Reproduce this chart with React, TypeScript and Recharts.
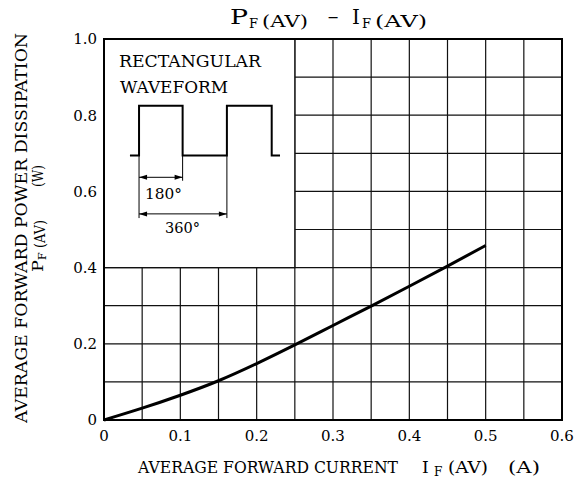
import React from 'react';
import { LineChart, Line, XAxis, YAxis, CartesianGrid, ReferenceArea, ReferenceLine } from 'recharts';

// Curve: PF(AV) vs IF(AV)
const currentA = [0, 0.05, 0.1, 0.15, 0.2, 0.25, 0.3, 0.35, 0.4, 0.45, 0.5];
const powerW = [0, 0.031, 0.065, 0.103, 0.148, 0.197, 0.248, 0.299, 0.351, 0.404, 0.458];

// Axis ticks (grid every 0.05 A / 0.1 W, labels every 0.1 A / 0.2 W)
const xTicks = [0, 0.05, 0.1, 0.15, 0.2, 0.25, 0.3, 0.35, 0.4, 0.45, 0.5, 0.55, 0.6];
const yTicks = [0, 0.1, 0.2, 0.3, 0.4, 0.5, 0.6, 0.7, 0.8, 0.9, 1.0];

// Inset waveform drawing (in data units)
const waveX = [0.034, 0.0459, 0.0459, 0.103, 0.103, 0.161, 0.161, 0.2197, 0.2197, 0.2306];
const waveY = [0.694, 0.694, 0.825, 0.825, 0.694, 0.694, 0.825, 0.825, 0.694, 0.694];

const curveData = currentA.map((x, i) => ({ x, y: powerW[i] }));
const waveData = waveX.map((x, i) => ({ x, y: waveY[i] }));

const FONT = "'DejaVu Serif', 'Liberation Serif', serif";

const fmtX = (v: number) => {
  const t = v * 10;
  if (Math.abs(t - Math.round(t)) > 1e-6) return '';
  return v === 0 ? '0' : v.toFixed(1);
};
const fmtY = (v: number) => {
  const t = Math.round(v * 10);
  if (t % 2 !== 0) return '';
  return v === 0 ? '0' : v.toFixed(1);
};

const ArrowShape = (props: any) => {
  const { x1, y1, x2, y2 } = props;
  const a = Math.min(x1, x2);
  const b = Math.max(x1, x2);
  const y = y1;
  return (
    <g>
      <line x1={a} y1={y} x2={b} y2={y2} stroke="#000" strokeWidth={1} />
      <polygon points={`${a},${y} ${a + 8},${y - 2.5} ${a + 8},${y + 2.5}`} fill="#000" />
      <polygon points={`${b},${y} ${b - 8},${y - 2.5} ${b - 8},${y + 2.5}`} fill="#000" />
    </g>
  );
};

export default function App() {
  return (
    <div style={{ position: 'absolute', left: 0, top: 0, width: 585, height: 491, background: '#fff' }}>
      <LineChart
        width={585}
        height={491}
        margin={{ top: 39, right: 23, bottom: 41, left: 64 }}
      >
        <CartesianGrid stroke="#111" strokeWidth={1.2} />
        <XAxis
          dataKey="x"
          type="number"
          domain={[0, 0.6]}
          ticks={xTicks}
          tickFormatter={fmtX}
          axisLine={false}
          tickLine={false}
          tickSize={0}
          tickMargin={10}
          height={30}
          interval={0}
          tick={{ fill: '#000', fontSize: 15, fontFamily: FONT }}
        />
        <YAxis
          type="number"
          domain={[0, 1]}
          ticks={yTicks}
          tickFormatter={fmtY}
          axisLine={false}
          tickLine={false}
          tickSize={0}
          tickMargin={7}
          width={40}
          interval={0}
          tick={{ fill: '#000', fontSize: 15, fontFamily: FONT }}
        />
        <ReferenceArea x1={0} x2={0.25} y1={0.4} y2={1} fill="#fff" fillOpacity={1} stroke="#111" strokeWidth={1.3} />
        <ReferenceArea x1={0} x2={0.6} y1={0} y2={1} fill="none" fillOpacity={0} stroke="#000" strokeWidth={2} />
        <ReferenceLine segment={[{ x: 0.0459, y: 0.694 }, { x: 0.0459, y: 0.53 }]} stroke="#000" strokeWidth={1} />
        <ReferenceLine segment={[{ x: 0.103, y: 0.694 }, { x: 0.103, y: 0.628 }]} stroke="#000" strokeWidth={1} />
        <ReferenceLine segment={[{ x: 0.161, y: 0.694 }, { x: 0.161, y: 0.53 }]} stroke="#000" strokeWidth={1} />
        <ReferenceLine segment={[{ x: 0.0459, y: 0.637 }, { x: 0.103, y: 0.637 }]} shape={ArrowShape} />
        <ReferenceLine segment={[{ x: 0.0459, y: 0.541 }, { x: 0.161, y: 0.541 }]} shape={ArrowShape} />
        <Line data={waveData} dataKey="y" type="linear" stroke="#000" strokeWidth={2} dot={false} isAnimationActive={false} />
        <Line data={curveData} dataKey="y" type="natural" stroke="#000" strokeWidth={3} dot={false} isAnimationActive={false} />
      </LineChart>
      <svg
        width={585}
        height={491}
        style={{ position: 'absolute', left: 0, top: 0, pointerEvents: 'none', fontFamily: FONT }}
        fill="#000"
      >
        {/* Title */}
        <text x={230} y={24} fontSize={20} textLength={18} lengthAdjust="spacingAndGlyphs">P</text>
        <text x={249} y={28} fontSize={13}>F</text>
        <text x={262} y={27} fontSize={17} textLength={46} lengthAdjust="spacingAndGlyphs">(AV)</text>
        <text x={327} y={23} fontSize={17} textLength={12} lengthAdjust="spacingAndGlyphs">−</text>
        <text x={352} y={24} fontSize={20}>I</text>
        <text x={362} y={28} fontSize={13}>F</text>
        <text x={375} y={27} fontSize={17} textLength={52} lengthAdjust="spacingAndGlyphs">(AV)</text>

        {/* Inset labels */}
        <text x={119} y={67} fontSize={16} textLength={142} lengthAdjust="spacingAndGlyphs">RECTANGULAR</text>
        <text x={120} y={93} fontSize={16} textLength={108} lengthAdjust="spacingAndGlyphs">WAVEFORM</text>
        <text x={145} y={199} fontSize={15} textLength={37} lengthAdjust="spacingAndGlyphs">180°</text>
        <text x={165} y={233} fontSize={15} textLength={35} lengthAdjust="spacingAndGlyphs">360°</text>

        {/* Y axis title */}
        <g transform="translate(27,228) rotate(-90)">
          <text x={0} y={0} fontSize={16} textAnchor="middle" textLength={390} lengthAdjust="spacingAndGlyphs">
            AVERAGE FORWARD POWER DISSIPATION
          </text>
        </g>
        <g transform="translate(43,420) rotate(-90)">
          <text x={148} y={0} fontSize={15} textLength={12} lengthAdjust="spacingAndGlyphs">P</text>
          <text x={160} y={3} fontSize={11}>F</text>
          <text x={172} y={2} fontSize={14} textLength={28} lengthAdjust="spacingAndGlyphs">(AV)</text>
          <text x={233} y={0} fontSize={14} textLength={22} lengthAdjust="spacingAndGlyphs">(W)</text>
        </g>

        {/* X axis title */}
        <text x={138} y={473} fontSize={17} textLength={260} lengthAdjust="spacingAndGlyphs">AVERAGE FORWARD CURRENT</text>
        <text x={422} y={473} fontSize={17}>I</text>
        <text x={434} y={476} fontSize={12}>F</text>
        <text x={448} y={473} fontSize={16} textLength={40} lengthAdjust="spacingAndGlyphs">(AV)</text>
        <text x={508} y={473} fontSize={16} textLength={32} lengthAdjust="spacingAndGlyphs">(A)</text>
      </svg>
    </div>
  );
}
